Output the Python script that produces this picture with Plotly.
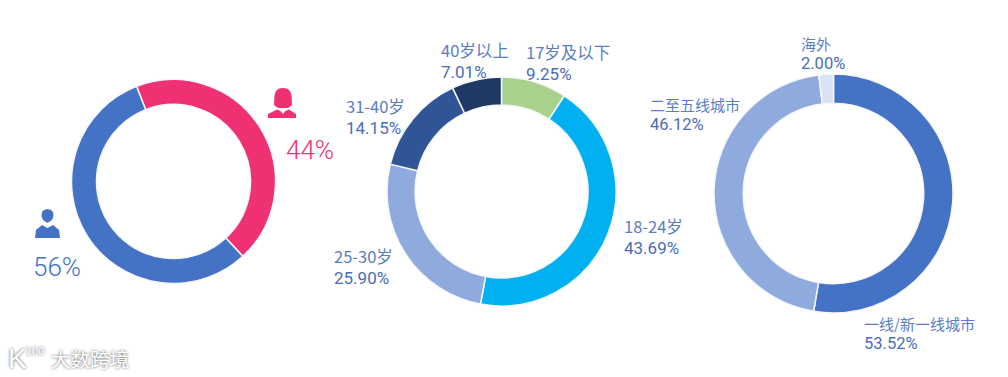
import plotly.graph_objects as go

W, H = 1008, 377

gender_labels = ["女", "男"]
gender_values = [44, 56]
gender_colors = ["#EF3073", "#4472C4"]

age_labels = ["17岁及以下", "18-24岁", "25-30岁", "31-40岁", "40岁以上"]
age_values = [9.25, 43.69, 25.90, 14.15, 7.01]
age_colors = ["#A9D18E", "#00B0F0", "#8FAADC", "#2F5597", "#1F3864"]

city_labels = ["一线/新一线城市", "二至五线城市", "海外"]
city_values = [53.52, 46.12, 2.00]
city_colors = ["#4472C4", "#8FAADC", "#DAE3F3"]

LABEL = "#5B7DC3"
PCT = "#4A6DB8"
CJK = "Noto Sans CJK SC"


def dom(cx, cy, r):
    return dict(x=[(cx - r) / W, (cx + r) / W], y=[1 - (cy + r) / H, 1 - (cy - r) / H])


def donut(labels, values, colors, cx, cy, r, rot):
    return go.Pie(labels=labels, values=values, marker=dict(colors=colors, line=dict(color="#F4F6FA", width=1.5)),
                  hole=0.755, sort=False, direction="clockwise", rotation=rot, textinfo="none",
                  hoverinfo="label+percent", showlegend=False, domain=dom(cx, cy, r))


fig = go.Figure([
    donut(gender_labels, gender_values, gender_colors, 173.5, 181.5, 102, 338.8),
    donut(age_labels, age_values, age_colors, 501.5, 191.5, 114.5, 0),
    donut(city_labels, city_values, city_colors, 833.5, 193.5, 119.5, 0),
])


def note(x, y, text, color=LABEL, size=15, font=CJK, anchor="left", **kw):
    fig.add_annotation(x=x / W, y=1 - y / H, xref="paper", yref="paper", text=text, showarrow=False,
                       xanchor=anchor, yanchor="middle", align="left", borderpad=0, borderwidth=0,
                       font=dict(family=font, size=size, color=color, **kw))


def block(x, y, label, pct, size, pct_size, gap):
    note(x, y, label, size=size)
    note(x, y + gap, f"{pct:.2f}%", color=PCT, size=pct_size, font="Roboto")


for x, y, i in [(441, 50, 4), (526, 52, 0), (346, 106, 3), (334, 256, 2), (624, 226, 1)]:
    block(x, y, age_labels[i], age_values[i], 16.5, 17, 22)

for x, y, i in [(864, 323, 0), (650, 104, 1), (801, 43.5, 2)]:
    block(x, y, city_labels[i], city_values[i], 15, 16.5, 20.5)

note(286, 150, f"{gender_values[0]}%", color=gender_colors[0], size=26, font="Roboto", weight=300)
note(33, 267, f"{gender_values[1]}%", color=gender_colors[1], size=26, font="Roboto", weight=300)

# Watermark
SH = "0px 0px 3px #555555"
note(51, 358, "大数跨境", color="#FFFFFF", size=19.5, shadow=SH)
note(8, 358, "K", color="#FFFFFF", size=28, font="Liberation Sans", shadow=SH)
note(26, 351, "100", color="#FFFFFF", size=11, font="Liberation Sans", shadow=SH)


def px(x, y):
    return f"{x / W:.5f} {1 - y / H:.5f}"


def path(points):
    return "M " + " L ".join(px(*p) for p in points) + " Z"


def icon(points, color):
    fig.add_shape(type="path", xref="paper", yref="paper", path=path(points), fillcolor=color,
                  line=dict(width=0), layer="above")


# Female icon
icon([(274, 105), (274.5, 95), (276, 91), (279, 88.5), (283, 88), (287, 88.5), (290, 91), (291.5, 95), (292, 105),
      (288, 108), (278, 108)], "#EF3073")
icon([(268, 118), (268, 114), (277, 109.5), (283, 112), (289, 109.5), (296, 114), (296, 118)], "#EF3073")
icon([(279.5, 110), (283, 114), (286.5, 110), (283, 112)], "#FFFFFF")
# Male icon
icon([(41.5, 216), (42, 212), (44, 210), (47.5, 209), (51, 210), (53, 212), (53.5, 216), (52, 220), (47.5, 223),
      (43, 220)], "#4472C4")
icon([(35, 238), (36, 230), (42, 225), (47.5, 228), (53, 225), (59, 230), (60, 238)], "#4472C4")

fig.update_layout(width=W, height=H, margin=dict(l=0, r=0, t=0, b=0), paper_bgcolor="#FFFFFF",
                  plot_bgcolor="#FFFFFF", font=dict(family=CJK))
fig.write_html("out.html", config={"displayModeBar": False},
               post_script="document.body.style.margin='0';document.documentElement.style.overflow='hidden';")
